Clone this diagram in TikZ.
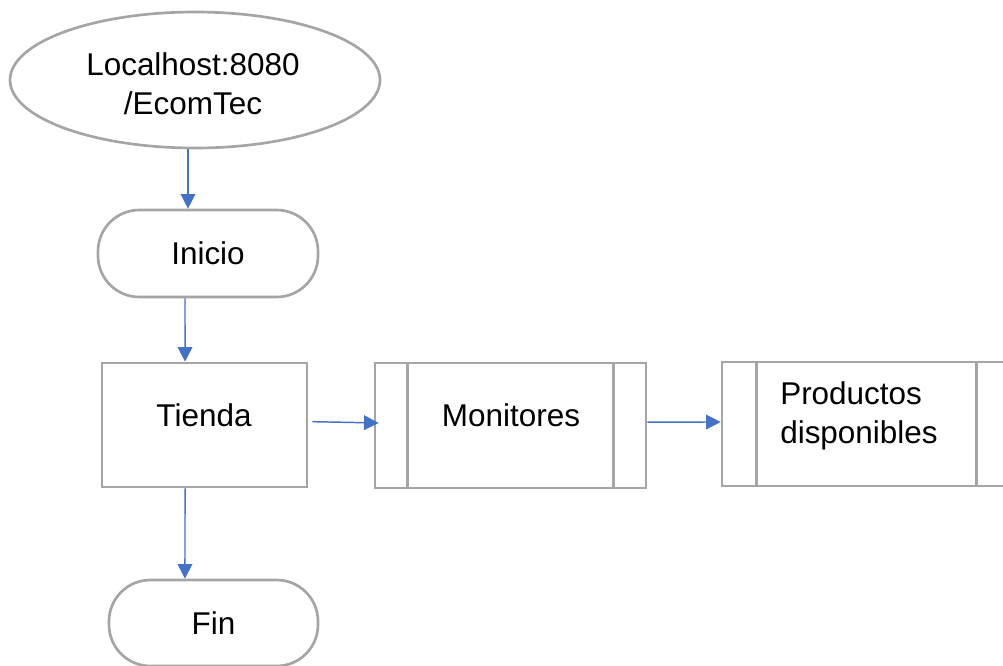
\documentclass[tikz,border=0pt]{standalone}
\usepackage{fontspec}
\setmainfont{Liberation Sans}
\usetikzlibrary{arrows.meta,shapes.geometric}
\definecolor{boxgray}{HTML}{A5A5A5}
\definecolor{arrblue}{HTML}{4472C4}
\tikzset{
  shp/.style={draw=boxgray, line width=2pt, fill=white, inner sep=0pt},
  ellbox/.style={shp, ellipse},
  pill/.style={shp, rectangle, rounded corners=31pt},
  procbox/.style={shp, rectangle},
  subline/.style={draw=boxgray, line width=2pt},
  txt/.style={font=\fontsize{23.6}{29}\selectfont, inner sep=0pt, text=black},
  arr/.style={draw=arrblue, line width=1.1pt, -{Triangle[length=11pt,width=11pt]}},
}
\begin{document}
\begin{tikzpicture}[x=0.75pt, y=-0.75pt]
\path[use as bounding box, clip] (0,0) rectangle (1003,665);
\fill[white] (0,0) rectangle (1003,665);
% shapes
\node[ellbox, minimum width=277.5pt, minimum height=102pt] (ell) at (195,80) {};
\node[pill, minimum width=165pt, minimum height=65.25pt] (inicio) at (208,253.5) {};
\node[procbox, minimum width=153.75pt, minimum height=93pt] (tienda) at (204.5,425) {};
\node[procbox, minimum width=203.25pt, minimum height=93.75pt] (mon) at (510.5,425.5) {};
\node[procbox, minimum width=216.75pt, minimum height=93pt] (prod) at (866.5,424) {};
\node[pill, minimum width=156.75pt, minimum height=64.5pt] (fin) at (213.5,623) {};
% subprocess inner lines
\draw[subline] ([xshift=25.5pt]mon.north west) -- ([xshift=25.5pt]mon.south west);
\draw[subline] ([xshift=-25.5pt]mon.north east) -- ([xshift=-25.5pt]mon.south east);
\draw[subline] ([xshift=27pt]prod.north west) -- ([xshift=27pt]prod.south west);
\draw[subline] ([xshift=-27pt]prod.north east) -- ([xshift=-27pt]prod.south east);
% texts
\node[txt, align=center] (tell) at (193,84) {Localhost:8080\\/EcomTec};
\node[txt, anchor=base] (tinicio) at (208,264) {Inicio};
\node[txt, anchor=base] (ttienda) at (204,426) {Tienda};
\node[txt, anchor=base] (tmon) at (511,426) {Monitores};
\node[txt, align=left, anchor=west] (tprod) at (780,416) {Productos\\disponibles};
\node[txt, anchor=base] (tfin) at (213.5,634) {Fin};
% connectors
\draw[arr] ([xshift=-5.25pt]ell.south) -- ([xshift=-15pt]inicio.north);
\draw[arr] ([xshift=-17.25pt]inicio.south) -- ([xshift=-14.6pt]tienda.north);
\draw[arr] ([xshift=-14.6pt]tienda.south) -- ([xshift=-21.4pt]fin.north);
\draw[arr] ([xshift=3pt,yshift=2.5pt]tienda.east) -- ([xshift=3.75pt,yshift=1.9pt]mon.west);
\draw[arr] ([yshift=2.6pt]mon.east) -- ([yshift=1.5pt]prod.west);
\end{tikzpicture}
\end{document}
